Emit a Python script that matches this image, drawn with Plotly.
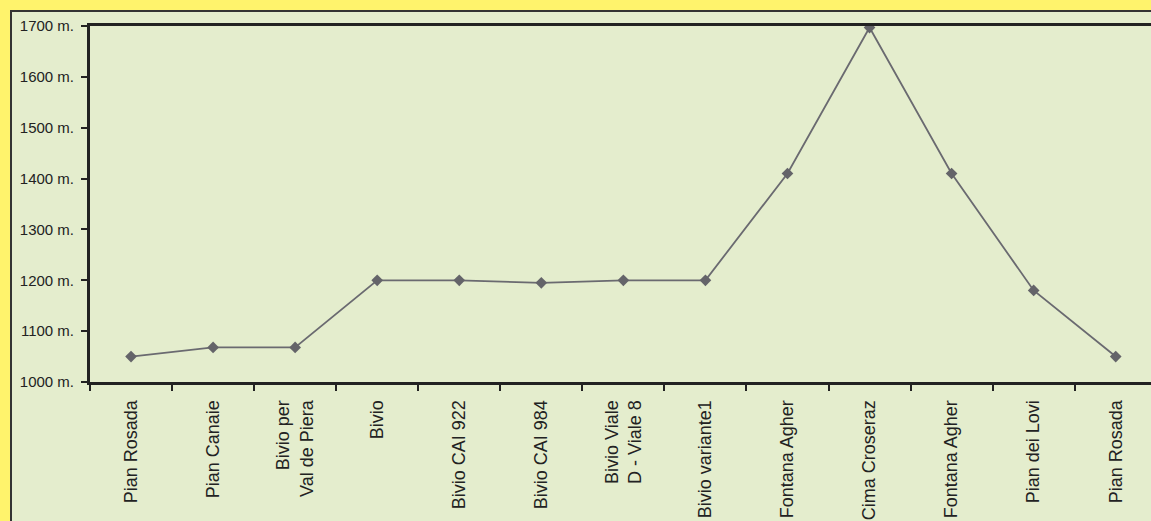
import plotly.graph_objects as go

labels = ["Pian Rosada", "Pian Canaie", "Bivio per<br>Val de Piera", "Bivio",
          "Bivio CAI 922", "Bivio CAI 984", "Bivio Viale<br>D - Viale 8",
          "Bivio variante1", "Fontana Agher", "Cima Croseraz", "Fontana Agher",
          "Pian dei Lovi", "Pian Rosada"]
altitude = [1050, 1068, 1068, 1200, 1200, 1195, 1200, 1200, 1410, 1697, 1410, 1180, 1050]
y_ticks = [1000, 1100, 1200, 1300, 1400, 1500, 1600, 1700]
y_ticktext = [f"{v} m." for v in y_ticks]

xs = list(range(len(labels)))

YELLOW = "#FFF36C"
GREEN = "#E4EDCD"
DARK = "#222222"

fig = go.Figure()
fig.add_trace(go.Scatter(
    x=xs, y=altitude, mode="lines+markers",
    line=dict(color="#6A6A70", width=1.8),
    marker=dict(symbol="diamond", size=9, color="#646469"),
    hoverinfo="y", showlegend=False,
))

fig.update_layout(
    width=1151, height=521,
    paper_bgcolor=YELLOW, plot_bgcolor=GREEN,
    margin=dict(l=90, r=0, t=26, b=139),
    font=dict(family="Liberation Sans, Arial, sans-serif", color=DARK),
    xaxis=dict(
        range=[-0.5, 12.43], tickmode="array", tickvals=xs, ticktext=labels,
        tickangle=-90, ticks="", showgrid=False, zeroline=False,
        showline=True, linecolor=DARK, linewidth=3, mirror=True,
        tickfont=dict(size=18, color=DARK), ticklabelstandoff=8,
        minor=dict(tickmode="array", tickvals=[i - 0.5 for i in range(len(labels) + 1)],
                   ticks="outside", ticklen=6, tickwidth=2, tickcolor=DARK, showgrid=False),
    ),
    yaxis=dict(
        range=[1000, 1700], tickmode="array", tickvals=y_ticks, ticktext=y_ticktext,
        ticks="outside", ticklen=6, tickwidth=2, tickcolor=DARK,
        showgrid=False, zeroline=False, showline=True, linecolor=DARK, linewidth=3,
        tickfont=dict(size=15, color=DARK), ticklabelstandoff=4,
    ),
    shapes=[dict(type="rect", xref="paper", yref="paper",
                 x0=(11 - 90) / 1061, x1=1.1, y0=-0.6, y1=(382 - 11) / 356,
                 fillcolor=GREEN, line=dict(color="#333333", width=2), layer="below")],
)

fig.write_html("out.html")
